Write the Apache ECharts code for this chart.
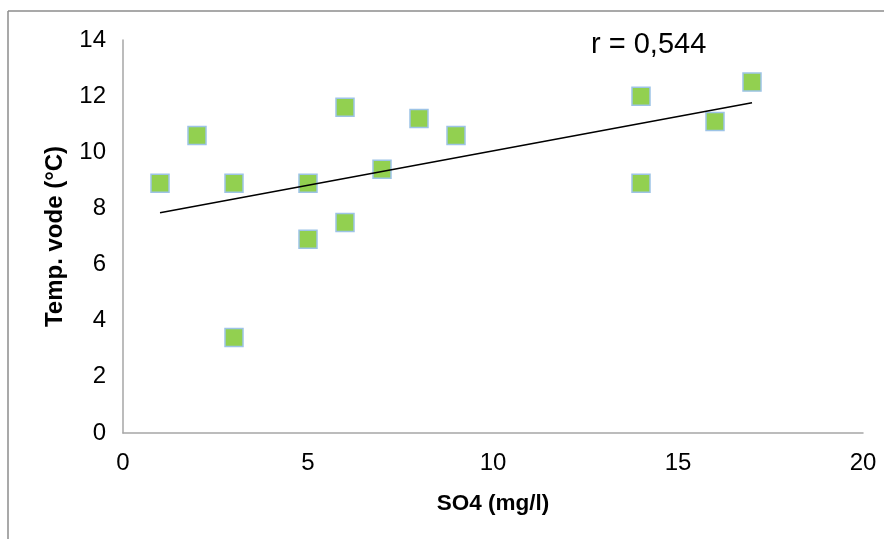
<!DOCTYPE html>
<html>
<head>
<meta charset="utf-8">
<script src="https://cdn.jsdelivr.net/npm/echarts@6/dist/echarts.min.js"></script>
<style>
  html, body { margin: 0; padding: 0; background: #fff; }
  #chart { width: 884px; height: 539px; }
</style>
</head>
<body>
<div id="chart"></div>
<script>
// SO4 (mg/l) vs water temperature
var so4 = [1, 2, 3, 3, 5, 5, 6, 6, 7, 8, 9, 14, 14, 16, 17];
var temp = [8.9, 10.6, 8.9, 3.4, 8.9, 6.9, 11.6, 7.5, 9.4, 11.2, 10.6, 12.0, 8.9, 11.1, 12.5];
var xTicks = [0, 5, 10, 15, 20];
var yTicks = [0, 2, 4, 6, 8, 10, 12, 14];
var rLabel = 'r = 0,544';

// least squares trend line, like excel's linear trendline
function trend(xs, ys) {
  var n = xs.length, mx = 0, my = 0;
  for (var i = 0; i < n; i++) { mx += xs[i]; my += ys[i]; }
  mx /= n; my /= n;
  var sxy = 0, sxx = 0;
  for (var j = 0; j < n; j++) {
    sxy += (xs[j] - mx) * (ys[j] - my);
    sxx += (xs[j] - mx) * (xs[j] - mx);
  }
  var b = sxy / sxx, a = my - b * mx;
  var x0 = Math.min.apply(null, xs), x1 = Math.max.apply(null, xs);
  return [[x0, a + b * x0], [x1, a + b * x1]];
}

var points = so4.map(function (x, i) { return [x, temp[i]]; });
var font = 'Liberation Sans';

var chart = echarts.init(document.getElementById('chart'));
chart.setOption({
  animation: false,
  title: {
    text: rLabel,
    left: 591,
    top: 30,
    padding: 0,
    textStyle: { fontFamily: font, fontSize: 29, fontWeight: 'normal', color: '#000' }
  },
  graphic: [
    { type: 'line', shape: { x1: 8, y1: 11, x2: 884, y2: 11 }, style: { stroke: '#8c8c8c', lineWidth: 1.5 } },
    { type: 'line', shape: { x1: 8, y1: 11, x2: 8, y2: 539 }, style: { stroke: '#8c8c8c', lineWidth: 1.5 } }
  ],
  grid: { left: 123, right: 21, top: 40, bottom: 106 },
  xAxis: {
    type: 'value',
    min: xTicks[0],
    max: xTicks[xTicks.length - 1],
    interval: 5,
    name: 'SO4 (mg/l)',
    nameLocation: 'middle',
    nameGap: 59,
    nameTextStyle: { fontFamily: font, fontSize: 22.5, fontWeight: 'bold', color: '#000' },
    axisLine: { lineStyle: { color: '#a6a6a6', width: 1.5 } },
    axisTick: { show: false },
    splitLine: { show: false },
    axisLabel: { fontFamily: font, fontSize: 24, color: '#000', margin: 18 }
  },
  yAxis: {
    type: 'value',
    min: yTicks[0],
    max: yTicks[yTicks.length - 1],
    interval: 2,
    name: 'Temp. vode (°C)',
    nameLocation: 'middle',
    nameGap: 56,
    nameTextStyle: { fontFamily: font, fontSize: 24, fontWeight: 'bold', color: '#000' },
    axisLine: { show: true, lineStyle: { color: '#a6a6a6', width: 1.5 } },
    axisTick: { show: false },
    splitLine: { show: false },
    axisLabel: { fontFamily: font, fontSize: 24, color: '#000', margin: 17 }
  },
  series: [
    {
      type: 'line',
      data: trend(so4, temp),
      symbol: 'none',
      lineStyle: { color: '#000', width: 1.5 },
      z: 3
    },
    {
      type: 'scatter',
      data: points,
      symbol: 'rect',
      symbolSize: 18,
      itemStyle: { color: '#92d050', borderColor: '#9dc3e6', borderWidth: 1.5, opacity: 1 },
      z: 2
    }
  ]
});
</script>
</body>
</html>
